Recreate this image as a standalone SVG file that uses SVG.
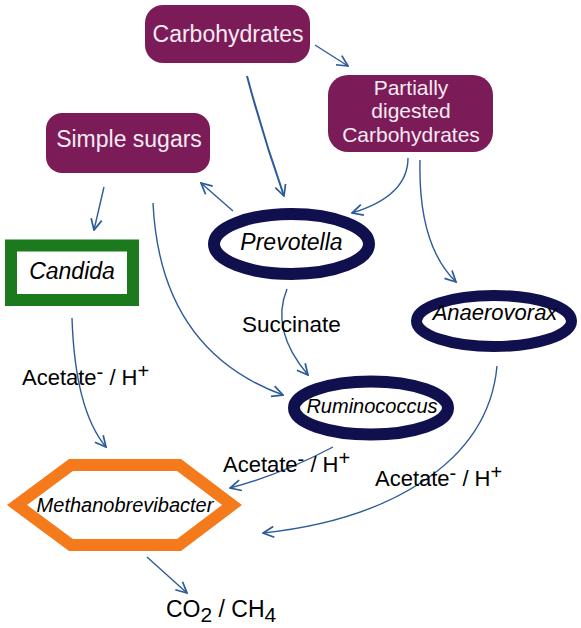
<svg xmlns="http://www.w3.org/2000/svg" width="581" height="628" viewBox="0 0 581 628">
<style>
.box{fill:#7b1c58;}
.bt{font-family:"Liberation Sans",Arial,sans-serif;fill:#f6eaf2;text-anchor:middle;}
.ell{fill:#ffffff;stroke:#10104f;}
.it{font-family:"Liberation Sans",Arial,sans-serif;font-style:italic;fill:#000;text-anchor:middle;}
.lbl{font-family:"Liberation Sans",Arial,sans-serif;fill:#000;}
.c{fill:none;stroke:#2d5b9a;stroke-width:1.4;marker-end:url(#ah);}
</style>
<defs>
<marker id="ah" viewBox="0 0 12 12" refX="11" refY="6" markerWidth="13" markerHeight="13" markerUnits="userSpaceOnUse" orient="auto">
<path d="M1,1 L11,6 L1,11" fill="none" stroke="#2d5b9a" stroke-width="1.6"/>
</marker>
</defs>
<rect width="581" height="628" fill="#ffffff"/>
<g id="connectors">
<path class="c" d="M315,45 L348,66"/>
<path class="c" d="M247,76 Q263,136 284,196" style="stroke-width:2"/>
<path class="c" d="M408,158 Q408,196 352,213"/>
<path class="c" d="M420,160 Q418,245 456,282"/>
<path class="c" d="M233,211 L201,183"/>
<path class="c" d="M104,187 L94,230"/>
<path class="c" d="M153,203 Q160,350 283,395"/>
<path class="c" d="M287,289 Q270,330 308,375"/>
<path class="c" d="M72,318 Q75,410 106,447"/>
<path class="c" d="M333,447 Q280,475 230,488"/>
<path class="c" d="M497,366 C488,465 385,520 263,533"/>
<path class="c" d="M147,557 L187,593"/>
</g>
<g id="carbohydrates">
<rect class="box" x="145" y="5" width="165" height="58" rx="18"/>
<text class="bt" x="228" y="42" font-size="23">Carbohydrates</text>
</g>
<g id="partially-digested">
<rect class="box" x="328" y="75" width="165" height="77" rx="20"/>
<text class="bt" x="411" y="95" font-size="21">Partially</text>
<text class="bt" x="411" y="118" font-size="21">digested</text>
<text class="bt" x="411" y="142" font-size="21">Carbohydrates</text>
</g>
<g id="simple-sugars">
<rect class="box" x="46" y="113" width="164" height="60" rx="16"/>
<text class="bt" x="129" y="147" font-size="23">Simple sugars</text>
</g>
<g id="prevotella">
<ellipse class="ell" cx="291.5" cy="244" rx="77.5" ry="30" stroke-width="12"/>
<text class="it" x="291.5" y="250" font-size="23">Prevotella</text>
</g>
<g id="candida">
<rect x="11" y="245.5" width="122" height="54.5" fill="#ffffff" stroke="#1b7a1b" stroke-width="12"/>
<text class="it" x="72" y="279" font-size="23">Candida</text>
</g>
<g id="anaerovorax">
<ellipse class="ell" cx="494" cy="321" rx="77.5" ry="25.5" stroke-width="11"/>
<text class="it" x="495" y="320" font-size="22">Anaerovorax</text>
</g>
<g id="succinate">
<text class="lbl" x="242" y="332" font-size="22.5">Succinate</text>
</g>
<g id="ruminococcus">
<ellipse class="ell" cx="371" cy="408" rx="77" ry="26.5" stroke-width="12"/>
<text class="it" x="372" y="413" font-size="20">Ruminococcus</text>
</g>
<g id="methanobrevibacter">
<polygon points="17,505 71,465 179,465 232,505 179,545 71,545" fill="#ffffff" stroke="#f47a1c" stroke-width="12"/>
<text class="it" x="125" y="512" font-size="20">Methanobrevibacter</text>
</g>
<g id="labels">
<text class="lbl" x="22" y="385" font-size="22">Acetate<tspan font-size="20" dy="-6">-</tspan><tspan dy="6"> / H</tspan><tspan font-size="20" dy="-7">+</tspan></text>
<text class="lbl" x="223" y="472" font-size="22">Acetate<tspan font-size="20" dy="-6">-</tspan><tspan dy="6"> / H</tspan><tspan font-size="20" dy="-7">+</tspan></text>
<text class="lbl" x="375" y="486" font-size="22">Acetate<tspan font-size="20" dy="-6">-</tspan><tspan dy="6"> / H</tspan><tspan font-size="20" dy="-7">+</tspan></text>
</g>
<g id="products">
<text class="lbl" x="166" y="617" font-size="23">CO<tspan font-size="21" dy="5">2</tspan><tspan dy="-5"> / CH</tspan><tspan font-size="21" dy="5">4</tspan></text>
</g>
</svg>
